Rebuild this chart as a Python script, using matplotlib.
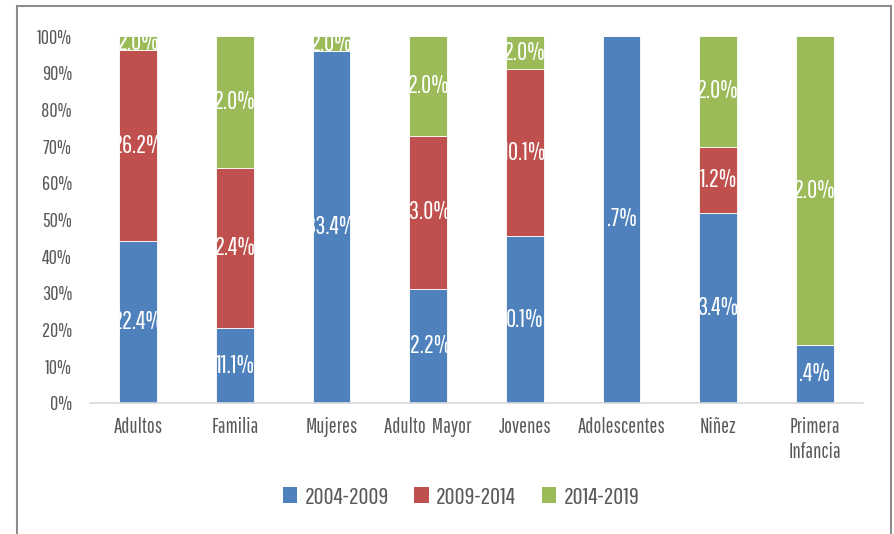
import matplotlib
matplotlib.use("Agg")
import matplotlib.pyplot as plt
from matplotlib import font_manager as fm
from matplotlib.lines import Line2D
from matplotlib.patches import Patch
import numpy as np

available = {f.name for f in fm.fontManager.ttflist}
candidates = ["Pathway Gothic One", "Agency FB", "Oswald", "Antonio", "Roboto Condensed",
              "Archivo Narrow", "PT Sans Narrow", "Barlow Condensed", "Liberation Sans Narrow"]
chosen = next((c for c in candidates if c in available), None)
plt.rcParams['font.family'] = ([chosen] if chosen else []) + ['DejaVu Sans']
if not chosen:
    plt.rcParams['font.stretch'] = 'condensed'

categories = ["Adultos", "Familia", "Mujeres", "Adulto  Mayor", "Jovenes",
              "Adolescentes", "Niñez", "Primera\nInfancia"]
series_names = ["2004-2009", "2009-2014", "2014-2019"]
s2004 = [44.1, 20.4, 95.9, 31.1, 45.5, 100.0, 51.8, 15.8]
s2009 = [52.1, 43.6, 0.0, 41.7, 45.5, 0.0, 18.0, 0.0]
s2014 = [3.8, 36.0, 4.1, 27.2, 9.0, 0.0, 30.2, 84.2]
lab2004 = ["22.4%", "11.1%", "33.4%", "12.2%", "0.1%", ".7%", "3.4%", ".4%"]
lab2009 = ["26.2%", "2.4%", "", "13.0%", "10.1%", "", "1.2%", ""]
lab2014 = ["2.0%", "2.0%", "2.0%", "2.0%", "2.0%", "", "2.0%", "2.0%"]
yticks = [0, 10, 20, 30, 40, 50, 60, 70, 80, 90, 100]

colors = ["#4F81BD", "#C0504D", "#9BBB59"]
gray = "#595959"

W, H = 894, 534
fig = plt.figure(figsize=(W / 100, H / 100), dpi=100)
ax = fig.add_axes([90 / W, 1 - 403 / H, (863 - 90) / W, (403 - 36) / H])

x = np.arange(len(categories))
width = 0.39
bottom = np.zeros(len(categories))
for vals, labs, col, name in zip([s2004, s2009, s2014], [lab2004, lab2009, lab2014],
                                 colors, series_names):
    vals = np.array(vals)
    bars = ax.bar(x, vals, width, bottom=bottom, color=col, edgecolor="white",
                  linewidth=0.6, label=name)
    for b, v, lab, bt in zip(bars, vals, labs, bottom):
        if v > 0 and lab:
            t = ax.text(b.get_x() + b.get_width() / 2, bt + v / 2, lab,
                        ha="center", va="center", color="white", fontsize=18)
            t.set_clip_path(b)
            t.set_clip_on(True)
    bottom += vals

ax.set_xlim(-0.5, len(categories) - 0.5)
ax.set_ylim(0, 100)
ax.set_yticks(yticks)
ax.set_yticklabels([f"{v}%" for v in yticks], fontsize=14.5)
ax.set_xticks(x)
ax.set_xticklabels(categories, linespacing=1.3, fontsize=15)
ax.tick_params(axis="both", length=0, colors=gray)
ax.tick_params(axis="y", pad=13)
ax.tick_params(axis="x", pad=10)
for s in ["top", "right", "left"]:
    ax.spines[s].set_visible(False)
ax.spines["bottom"].set_color("#d9d9d9")
ax.spines["bottom"].set_linewidth(1.2)

handles = [Patch(facecolor=c, edgecolor="none") for c in colors]
fig.legend(handles, series_names, loc="center", bbox_to_anchor=(461 / W, 1 - 497 / H),
           ncol=3, frameon=False, fontsize=17.5, labelcolor=gray,
           handlelength=0.6, handleheight=0.6, handletextpad=0.3, columnspacing=1.05)

bc = "#8c8c8c"
fig.add_artist(Line2D([17 / W, 17 / W], [0, 1 - 6 / H], color=bc, lw=1.5))
fig.add_artist(Line2D([17 / W, 891 / W], [1 - 6 / H, 1 - 6 / H], color=bc, lw=1.5))
fig.add_artist(Line2D([891 / W, 891 / W], [0, 1 - 6 / H], color=bc, lw=1.5))

fig.savefig("out.png", dpi=100)
